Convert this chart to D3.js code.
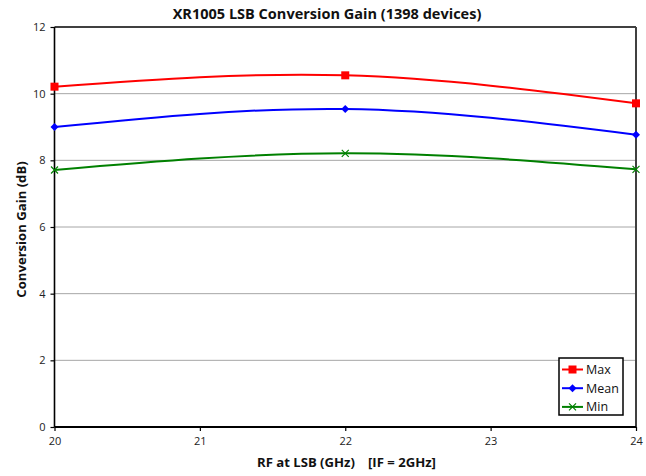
<!DOCTYPE html>
<html><head><meta charset="utf-8">
<script src="https://cdn.jsdelivr.net/npm/d3@7"></script>
<style>body{margin:0;background:#fff}svg{display:block;font-family:"Open Sans",sans-serif}</style>
</head><body><svg id="c" width="646" height="476"></svg>
<script>
const freqs = [20, 22, 24];
const maxVals = [10.21, 10.55, 9.71];
const meanVals = [9.0, 9.54, 8.77];
const minVals = [7.71, 8.21, 7.73];
const xTicks = [20, 21, 22, 23, 24];
const yTicks = [0, 2, 4, 6, 8, 10, 12];
const seriesNames = ["Max", "Mean", "Min"];
const seriesColors = ["#ff0000", "#0000ff", "#008000"];
const seriesMarkers = ["square", "diamond", "x"];

const svg = d3.select("#c");
const L = 54.5, R = 636, T = 27, B = 427;
const x = d3.scaleLinear().domain([20, 24]).range([L, R]);
const y = d3.scaleLinear().domain([0, 12]).range([B, T]);

function fit(sel, target) {
  const base = +sel.attr("font-size");
  const w = sel.node().getComputedTextLength();
  if (w > 0) sel.attr("font-size", base * target / w);
  return sel;
}

// gridlines
svg.append("g").selectAll("line").data(yTicks.filter(d => d > 0 && d < 12)).join("line")
  .attr("x1", L).attr("x2", R).attr("y1", d => y(d)).attr("y2", d => y(d))
  .attr("stroke", "#a6a6a6").attr("stroke-width", 1);

// frame top/right
svg.append("line").attr("x1", L).attr("x2", R).attr("y1", T).attr("y2", T).attr("stroke", "#404040").attr("stroke-width", 2);
svg.append("line").attr("x1", R).attr("x2", R).attr("y1", T).attr("y2", B).attr("stroke", "#404040").attr("stroke-width", 2);

// axes
const yAxis = svg.append("g").attr("transform", `translate(${L},0)`)
  .call(d3.axisLeft(y).tickValues(yTicks).tickSize(4).tickPadding(5).tickFormat(d3.format("d")));
const xAxis = svg.append("g").attr("transform", `translate(0,${B})`)
  .call(d3.axisBottom(x).tickValues(xTicks).tickSize(4).tickPadding(6).tickFormat(d3.format("d")));
[yAxis, xAxis].forEach(a => {
  a.select(".domain").remove();
  a.selectAll("line").attr("stroke", "#000").attr("stroke-width", 1.2);
  a.selectAll("text").attr("font-size", 11).attr("fill", "#222").attr("font-family", "'Open Sans', sans-serif");
});
svg.append("line").attr("x1", L).attr("x2", L).attr("y1", T).attr("y2", B).attr("stroke", "#000").attr("stroke-width", 1.6);
svg.append("line").attr("x1", L).attr("x2", R).attr("y1", B).attr("y2", B).attr("stroke", "#000").attr("stroke-width", 2);

// series
const data = [maxVals, meanVals, minVals];
const line = d3.line().x((d, i) => x(freqs[i])).y(d => y(d)).curve(d3.curveNatural);

function marker(g, type, color, cx, cy) {
  if (type === "square") {
    g.append("rect").attr("x", cx - 4).attr("y", cy - 4).attr("width", 8).attr("height", 8).attr("fill", color);
  } else if (type === "diamond") {
    g.append("path").attr("d", `M${cx},${cy-4}L${cx+4},${cy}L${cx},${cy+4}L${cx-4},${cy}Z`).attr("fill", color);
  } else {
    g.append("path").attr("d", `M${cx-3.5},${cy-3.5}L${cx+3.5},${cy+3.5}M${cx-3.5},${cy+3.5}L${cx+3.5},${cy-3.5}`)
      .attr("stroke", color).attr("stroke-width", 1.2).attr("fill", "none");
  }
}

data.forEach((vals, si) => {
  const g = svg.append("g");
  g.append("path").attr("d", line(vals)).attr("fill", "none")
    .attr("stroke", seriesColors[si]).attr("stroke-width", 2);
  vals.forEach((v, i) => marker(g, seriesMarkers[si], seriesColors[si], x(freqs[i]), y(v)));
});

// legend
const lg = svg.append("g");
lg.append("rect").attr("x", 559).attr("y", 358).attr("width", 64).attr("height", 57)
  .attr("fill", "#fff").attr("stroke", "#000").attr("stroke-width", 1.5);
seriesNames.forEach((n, i) => {
  const yy = 369.5 + i * 18.7;
  lg.append("line").attr("x1", 562).attr("x2", 583).attr("y1", yy).attr("y2", yy)
    .attr("stroke", seriesColors[i]).attr("stroke-width", 2);
  marker(lg, seriesMarkers[i], seriesColors[i], 572.5, yy);
  lg.append("text").attr("x", 586).attr("y", yy + 4.5).attr("font-size", 12.5).attr("fill", "#111").text(n);
});

// titles
fit(svg.append("text").attr("x", 327).attr("y", 18.8).attr("text-anchor", "middle")
  .attr("font-size", 14).attr("font-weight", "bold").attr("fill", "#111")
  .text("XR1005 LSB Conversion Gain (1398 devices)"), 309);
const xl1 = svg.append("text").attr("x", 257).attr("y", 466.5).attr("font-size", 12.5).attr("font-weight", "bold").attr("fill", "#111").text("RF at LSB (GHz)");
fit(xl1, 98);
const xl2 = svg.append("text").attr("x", 368).attr("y", 466.5).attr("font-size", xl1.attr("font-size")).attr("font-weight", "bold").attr("fill", "#111").text("[IF = 2GHz]");
svg.append("text").attr("transform", `translate(26,${(T + B) / 2 + 2.5}) rotate(-90)`).attr("text-anchor", "middle")
  .attr("font-size", xl1.attr("font-size")).attr("font-weight", "bold").attr("fill", "#111")
  .text("Conversion Gain (dB)");
</script></body></html>
